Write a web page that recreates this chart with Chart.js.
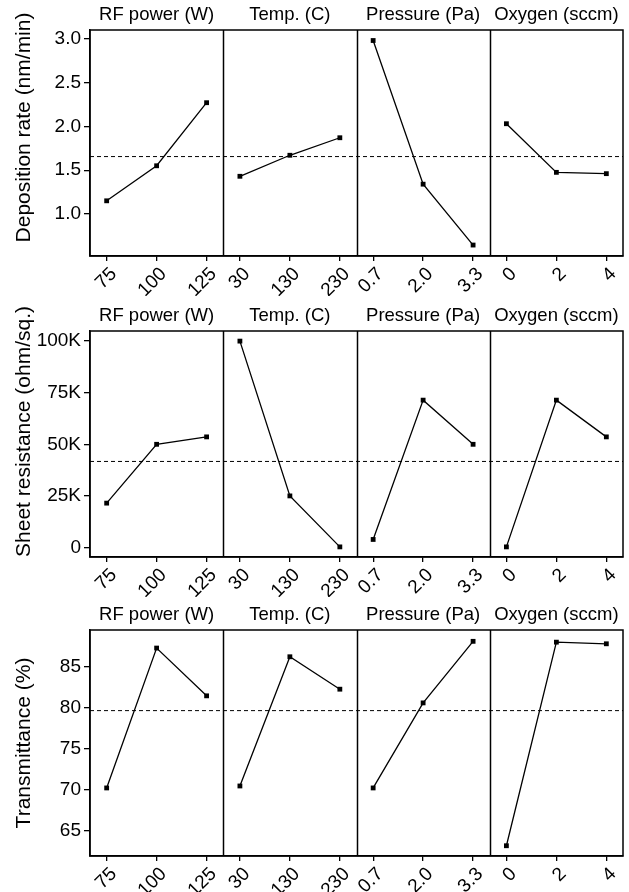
<!DOCTYPE html>
<html>
<head>
<meta charset="utf-8">
<script src="https://cdn.jsdelivr.net/npm/chart.js@4.4.1/dist/chart.umd.min.js"></script>
<style>
  html, body { margin: 0; padding: 0; background: #fff; }
  #wrap { position: relative; width: 629px; height: 892px; overflow: hidden; }
  .row { position: absolute; left: 0; width: 629px; height: 296px; }
</style>
</head>
<body>
<div id="wrap">
  <div class="row" style="top:0"><canvas id="c0"></canvas></div>
  <div class="row" style="top:301px"><canvas id="c1"></canvas></div>
  <div class="row" style="top:600px"><canvas id="c2"></canvas></div>
</div>
<script>
// factors and their levels
const panelTitles = ['RF power (W)', 'Temp. (C)', 'Pressure (Pa)', 'Oxygen (sccm)'];
const rfLevels = ['75', '100', '125'];
const tempLevels = ['30', '130', '230'];
const pressureLevels = ['0.7', '2.0', '3.3'];
const oxygenLevels = ['0', '2', '4'];

// deposition rate (nm/min)
const depRF = [1.15, 1.55, 2.27];
const depTemp = [1.43, 1.67, 1.87];
const depPressure = [2.98, 1.34, 0.645];
const depOxygen = [2.03, 1.475, 1.46];
const depMean = 1.655;
const depTicks = [1.0, 1.5, 2.0, 2.5, 3.0];

// sheet resistance (ohm/sq.)
const resRF = [21500, 50000, 53600];
const resTemp = [100000, 25000, 300];
const resPressure = [3900, 71400, 50000];
const resOxygen = [300, 71400, 53600];
const resMean = 41700;
const resTicks = [0, 25000, 50000, 75000, 100000];

// transmittance (%)
const trRF = [70.24, 87.28, 81.46];
const trTemp = [70.48, 86.22, 82.27];
const trPressure = [70.24, 80.6, 88.1];
const trOxygen = [63.2, 88.0, 87.8];
const trMean = 79.66;
const trTicks = [65, 70, 75, 80, 85];

const FONT = '"Liberation Sans", Arial, sans-serif';
const levels = [rfLevels, tempLevels, pressureLevels, oxygenLevels];
const tickLabels = levels.flat();

// each panel holds 3 levels plus a third of a step of room on both sides
const PAD = 1 / 3;
const SPAN = 2 + 2 * PAD;
const tickPos = [];
levels.forEach((lv, k) => lv.forEach((_, i) => tickPos.push(k * SPAN + i)));
const xMin = -PAD;
const xMax = 4 * SPAN - PAD;

const panelPlugin = {
  id: 'panels',
  afterDraw(chart, args, opts) {
    const { ctx, chartArea: a, scales: { x } } = chart;
    ctx.save();
    ctx.strokeStyle = '#000';
    ctx.lineWidth = 1.5;
    ctx.strokeRect(a.left, a.top, a.right - a.left, a.bottom - a.top);
    for (let k = 1; k < 4; k++) {
      const px = Math.round(x.getPixelForValue(k * SPAN - PAD)) + 0.5;
      ctx.beginPath();
      ctx.moveTo(px, a.top);
      ctx.lineTo(px, a.bottom);
      ctx.stroke();
    }
    ctx.fillStyle = '#000';
    ctx.textAlign = 'center';
    ctx.textBaseline = 'middle';
    ctx.font = '18.5px ' + FONT;
    panelTitles.forEach((t, k) => {
      ctx.fillText(t, x.getPixelForValue(k * SPAN + 1), a.top - 15);
    });
    // y axis title
    ctx.translate(24, opts.titleY);
    ctx.rotate(-Math.PI / 2);
    ctx.font = '21px ' + FONT;
    ctx.fillText(opts.yTitle, 0, 0);
    ctx.restore();
  }
};

function makeRow(id, series, mean, yMin, yMax, yTicks, fmt, yTitle, titleY) {
  const datasets = series.map((vals, k) => ({
    data: vals.map((v, i) => ({ x: k * SPAN + i, y: v })),
    borderColor: '#000',
    borderWidth: 1.3,
    pointStyle: 'rect',
    pointRadius: 3.4,
    pointBackgroundColor: '#000',
    pointBorderColor: '#000',
    pointBorderWidth: 0
  }));
  datasets.push({
    data: [{ x: xMin, y: mean }, { x: xMax, y: mean }],
    borderColor: '#000',
    borderWidth: 1,
    borderDash: [4, 3],
    pointRadius: 0
  });

  new Chart(document.getElementById(id), {
    type: 'line',
    data: { datasets },
    options: {
      responsive: true,
      maintainAspectRatio: false,
      animation: false,
      layout: { padding: { top: 30, right: 6, bottom: 0, left: 0 } },
      plugins: {
        legend: { display: false },
        tooltip: { enabled: false },
        panels: { yTitle, titleY }
      },
      scales: {
        x: {
          type: 'linear',
          min: xMin,
          max: xMax,
          afterBuildTicks: s => { s.ticks = tickPos.map(v => ({ value: v })); },
          afterFit: s => { s.height = 40; },
          ticks: {
            autoSkip: false,
            minRotation: 45,
            maxRotation: 45,
            padding: 2,
            labelOffset: 7,
            color: '#000',
            font: { family: FONT, size: 19 },
            callback: (v, i) => tickLabels[i]
          },
          grid: { drawOnChartArea: false, tickLength: 5, color: '#000', lineWidth: 1.3 },
          border: { color: '#000', width: 1.5 }
        },
        y: {
          min: yMin,
          max: yMax,
          afterBuildTicks: s => { s.ticks = yTicks.map(v => ({ value: v })); },
          afterFit: s => { s.width = 90; },
          ticks: {
            padding: 3,
            color: '#000',
            font: { family: FONT, size: 19 },
            callback: fmt
          },
          grid: { drawOnChartArea: false, tickLength: 6, color: '#000', lineWidth: 1.3 },
          border: { color: '#000', width: 1.5 }
        }
      }
    },
    plugins: [panelPlugin]
  });
}

makeRow('c0', [depRF, depTemp, depPressure, depOxygen], depMean, 0.52, 3.10, depTicks,
  v => v.toFixed(1), 'Deposition rate (nm/min)', 127.5);
makeRow('c1', [resRF, resTemp, resPressure, resOxygen], resMean, -4600, 104900, resTicks,
  v => v === 0 ? '0' : (v / 1000) + 'K', 'Sheet resistance (ohm/sq.)', 130.5);
makeRow('c2', [trRF, trTemp, trPressure, trOxygen], trMean, 61.95, 89.48, trTicks,
  v => String(v), 'Transmittance (%)', 143);
</script>
</body>
</html>
